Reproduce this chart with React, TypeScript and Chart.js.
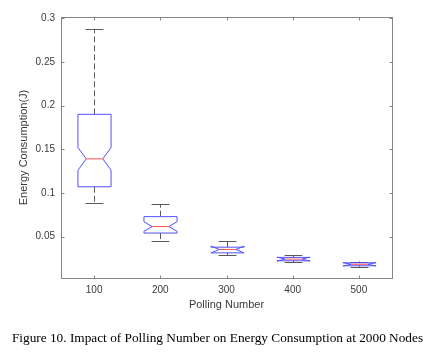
import React, { useEffect, useRef } from 'react';
import { Chart, registerables } from 'chart.js';

Chart.register(...registerables);

// ---- data ----
const categories = ['100', '200', '300', '400', '500'];
const whiskerHigh = [0.288, 0.0872, 0.045, 0.029, 0.0214];
const q3 = [0.19, 0.0728, 0.0378, 0.0261, 0.0199];
const medians = [0.139, 0.0614, 0.0352, 0.0241, 0.0182];
const q1 = [0.107, 0.054, 0.0313, 0.0222, 0.0165];
const whiskerLow = [0.088, 0.0454, 0.0287, 0.0204, 0.0153];
const notchHigh = [0.152, 0.067, 0.039, 0.0264, 0.0201];
const notchLow = [0.126, 0.056, 0.0312, 0.0219, 0.0163];
const yTickValues = [0.05, 0.1, 0.15, 0.2, 0.25, 0.3];
const xTitle = 'Polling Number';
const yTitle = 'Energy Consumption(J)';
const caption = 'Figure 10. Impact of Polling Number on Energy Consumption at 2000 Nodes';

const AXIS_COLOR = '#858585';
const TEXT_COLOR = '#3a3a3a';
const BOX_COLOR = 'rgb(80,80,255)';
const MEDIAN_COLOR = 'rgb(255,80,80)';
const WHISKER_COLOR = '#5a5a5a';

const boxPlugin = {
  id: 'notchedBoxes',
  afterDatasetsDraw(chart: any) {
    const { ctx, chartArea: a, scales } = chart;
    const x = scales.x;
    const y = scales.y;
    ctx.save();

    // frame (box on) and inward ticks
    ctx.strokeStyle = AXIS_COLOR;
    ctx.lineWidth = 1;
    ctx.setLineDash([]);
    const L = Math.round(a.left) + 0.5;
    const R = Math.round(a.right) + 0.5;
    const T = Math.round(a.top) + 0.5;
    const B = Math.round(a.bottom) + 0.5;
    ctx.strokeRect(L, T, R - L, B - T);
    const tl = 3;
    ctx.beginPath();
    categories.forEach((_, i) => {
      const px = Math.round(x.getPixelForValue(i)) + 0.5;
      ctx.moveTo(px, B);
      ctx.lineTo(px, B - tl);
      ctx.moveTo(px, T);
      ctx.lineTo(px, T + tl);
    });
    yTickValues.forEach((v) => {
      const py = Math.round(y.getPixelForValue(v)) + 0.5;
      ctx.moveTo(L, py);
      ctx.lineTo(L + tl, py);
      ctx.moveTo(R, py);
      ctx.lineTo(R - tl, py);
    });
    ctx.stroke();

    const unit = x.getPixelForValue(1) - x.getPixelForValue(0);
    const hw = unit * 0.25;
    const inset = hw * 0.5;
    const capHw = unit * 0.135;

    categories.forEach((_, i) => {
      const cx = Math.round(x.getPixelForValue(i)) + 0.5;
      const yHi = y.getPixelForValue(whiskerHigh[i]);
      const yQ3 = y.getPixelForValue(q3[i]);
      const yMed = y.getPixelForValue(medians[i]);
      const yQ1 = y.getPixelForValue(q1[i]);
      const yLo = y.getPixelForValue(whiskerLow[i]);
      const yNH = y.getPixelForValue(notchHigh[i]);
      const yNL = y.getPixelForValue(notchLow[i]);
      const left = cx - hw;
      const right = cx + hw;

      // whiskers (dashed)
      ctx.strokeStyle = WHISKER_COLOR;
      ctx.lineWidth = 1;
      ctx.setLineDash([6, 3]);
      ctx.beginPath();
      ctx.moveTo(cx, yQ3);
      ctx.lineTo(cx, yHi);
      ctx.moveTo(cx, yQ1);
      ctx.lineTo(cx, yLo);
      ctx.stroke();

      // caps
      ctx.setLineDash([]);
      ctx.beginPath();
      ctx.moveTo(cx - capHw, Math.round(yHi) + 0.5);
      ctx.lineTo(cx + capHw, Math.round(yHi) + 0.5);
      ctx.moveTo(cx - capHw, Math.round(yLo) + 0.5);
      ctx.lineTo(cx + capHw, Math.round(yLo) + 0.5);
      ctx.stroke();

      // notched box
      ctx.strokeStyle = BOX_COLOR;
      ctx.lineWidth = 1;
      ctx.beginPath();
      ctx.moveTo(left, yQ3);
      ctx.lineTo(left, yNH);
      ctx.lineTo(left + inset, yMed);
      ctx.lineTo(left, yNL);
      ctx.lineTo(left, yQ1);
      ctx.lineTo(right, yQ1);
      ctx.lineTo(right, yNL);
      ctx.lineTo(right - inset, yMed);
      ctx.lineTo(right, yNH);
      ctx.lineTo(right, yQ3);
      ctx.closePath();
      ctx.stroke();

      // median
      ctx.strokeStyle = MEDIAN_COLOR;
      ctx.beginPath();
      ctx.moveTo(left + inset, yMed);
      ctx.lineTo(right - inset, yMed);
      ctx.stroke();
    });

    ctx.restore();
  },
};

export default function App() {
  const canvasRef = useRef<HTMLCanvasElement | null>(null);

  useEffect(() => {
    const canvas = canvasRef.current;
    if (!canvas) return;
    const chart = new Chart(canvas, {
      type: 'bar',
      data: {
        labels: categories,
        datasets: [
          {
            label: 'range',
            data: categories.map((_, i) => [whiskerLow[i], whiskerHigh[i]]) as any,
            backgroundColor: 'rgba(0,0,0,0)',
            borderWidth: 0,
          },
        ],
      },
      options: {
        responsive: false,
        animation: false,
        devicePixelRatio: 1,
        layout: { padding: { top: 17, left: 0, right: 49, bottom: 49 } },
        plugins: {
          legend: { display: false },
          tooltip: { enabled: false },
          title: { display: false },
        },
        scales: {
          x: {
            type: 'category',
            offset: true,
            grid: { display: false, drawTicks: false },
            border: { display: false },
            ticks: {
              color: TEXT_COLOR,
              padding: 6,
              font: { family: 'Liberation Sans, Arial, sans-serif', size: 10 },
            },
            title: {
              display: true,
              text: xTitle,
              color: TEXT_COLOR,
              font: { family: 'Liberation Sans, Arial, sans-serif', size: 11 },
              padding: { top: 0, bottom: 2 },
            },
            afterFit: (s: any) => {
              s.height = 36;
            },
          },
          y: {
            type: 'linear',
            min: 0.0025,
            max: 0.3015,
            grid: { display: false, drawTicks: false },
            border: { display: false },
            afterBuildTicks: (s: any) => {
              s.ticks = yTickValues.map((v) => ({ value: v }));
            },
            ticks: {
              color: TEXT_COLOR,
              padding: 6,
              font: { family: 'Liberation Sans, Arial, sans-serif', size: 10 },
              callback: (v: any) => String(Number(Number(v).toFixed(3))),
            },
            title: {
              display: true,
              text: yTitle,
              color: TEXT_COLOR,
              font: { family: 'Liberation Sans, Arial, sans-serif', size: 11 },
              padding: { top: 17, bottom: 0 },
            },
            afterFit: (s: any) => {
              s.width = 61;
            },
          },
        },
      },
      plugins: [boxPlugin],
    });
    return () => chart.destroy();
  }, []);

  return (
    <div
      style={{
        position: 'fixed',
        left: 0,
        top: 0,
        width: 441,
        height: 363,
        background: '#ffffff',
      }}
    >
      <canvas ref={canvasRef} width={441} height={363} style={{ display: 'block' }} />
      <div
        style={{
          position: 'absolute',
          left: 0,
          width: 435,
          top: 330,
          textAlign: 'center',
          fontFamily: '"Liberation Serif", "Times New Roman", serif',
          fontSize: 13.3,
          lineHeight: '16px',
          color: '#000',
          whiteSpace: 'nowrap',
        }}
      >
        {caption}
      </div>
    </div>
  );
}
